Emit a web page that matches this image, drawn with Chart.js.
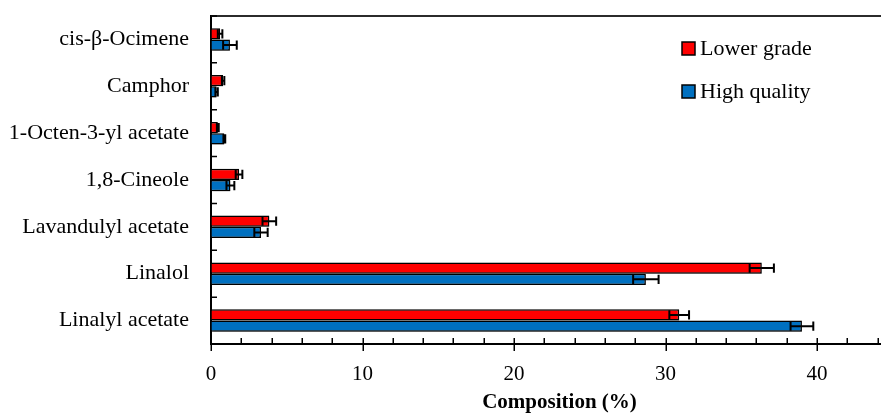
<!DOCTYPE html>
<html>
<head>
<meta charset="utf-8">
<script src="https://cdn.jsdelivr.net/npm/chart.js@4"></script>
<style>
html,body{margin:0;padding:0;background:#fff;overflow:hidden;width:881px;height:413px;}
#wrap{width:908px;height:413px;}
</style>
</head>
<body>
<div id="wrap"><canvas id="c" width="908" height="413"></canvas></div>
<script>
const categories = ['cis-β-Ocimene','Camphor','1-Octen-3-yl acetate','1,8-Cineole','Lavandulyl acetate','Linalol','Linalyl acetate'];
const seriesNames = ['Lower grade','High quality'];
const lowerGrade = [0.6, 0.8, 0.45, 1.85, 3.85, 36.35, 30.9];
const lowerGradeErr = [0.15, 0.08, 0.06, 0.22, 0.45, 0.8, 0.65];
const highQuality = [1.25, 0.37, 0.88, 1.28, 3.3, 28.7, 39.0];
const highQualityErr = [0.45, 0.08, 0.06, 0.26, 0.44, 0.84, 0.75];
const xMin = 0, xMax = 46, xMinorStep = 2, xMajorStep = 10;

const FONT = '"Liberation Serif", "Times New Roman", serif';
const errs = [lowerGradeErr, highQualityErr];

const decor = {
  id: 'decor',
  beforeDatasetsDraw(chart) {
    const ctx = chart.ctx;
    ctx.save();
    ctx.shadowColor = 'rgba(0,0,0,0.35)';
    ctx.shadowBlur = 2;
    ctx.shadowOffsetX = 1;
    ctx.shadowOffsetY = 1;
  },
  afterDatasetsDraw(chart) {
    const ctx = chart.ctx;
    ctx.restore();
    const xs = chart.scales.x;
    ctx.save();
    ctx.strokeStyle = '#000';
    ctx.lineWidth = 2;
    chart.data.datasets.forEach((ds, di) => {
      const meta = chart.getDatasetMeta(di);
      meta.data.forEach((bar, i) => {
        const v = ds.data[i], e = errs[di][i];
        const x1 = xs.getPixelForValue(v - e), x2 = xs.getPixelForValue(v + e);
        const h = bar.height / 2 - 1;
        ctx.beginPath();
        ctx.moveTo(x1, bar.y); ctx.lineTo(x2, bar.y);
        ctx.moveTo(x1, bar.y - h); ctx.lineTo(x1, bar.y + h);
        ctx.moveTo(x2, bar.y - h); ctx.lineTo(x2, bar.y + h);
        ctx.stroke();
      });
    });
    ctx.restore();
  },
  afterDraw(chart) {
    const ctx = chart.ctx;
    const a = chart.chartArea;
    const xs = chart.scales.x, ys = chart.scales.y;
    ctx.save();
    ctx.strokeStyle = '#2b2b2b';
    ctx.lineWidth = 2;
    ctx.beginPath();
    ctx.moveTo(a.left, a.top); ctx.lineTo(a.right, a.top);
    ctx.stroke();
    ctx.strokeStyle = '#000';
    ctx.lineWidth = 1.5;
    ctx.beginPath();
    for (let v = xMin; v <= xMax; v += xMinorStep) {
      const px = Math.round(xs.getPixelForValue(v)) + 0.25;
      const major = v % xMajorStep === 0;
      ctx.moveTo(px, a.bottom - 6);
      ctx.lineTo(px, major ? a.bottom + 7 : a.bottom);
    }
    for (let i = 0; i <= categories.length; i++) {
      const py = ys.getPixelForValue(i - 0.5);
      ctx.moveTo(a.left, py); ctx.lineTo(a.left + 6, py);
    }
    ctx.stroke();
    const lx = a.left + 471, ly = a.top + 26;
    chart.data.datasets.forEach((ds, di) => {
      const y = ly + di * 43;
      ctx.fillStyle = ds.backgroundColor;
      ctx.fillRect(lx, y, 13, 13);
      ctx.strokeStyle = '#000';
      ctx.lineWidth = 1.5;
      ctx.strokeRect(lx, y, 13, 13);
      ctx.fillStyle = '#000';
      ctx.font = '22px ' + FONT;
      ctx.textBaseline = 'alphabetic';
      ctx.textAlign = 'left';
      ctx.fillText(ds.label, lx + 18, y + 13);
    });
    ctx.restore();
  }
};

new Chart(document.getElementById('c'), {
  type: 'bar',
  data: {
    labels: categories,
    datasets: [
      { label: seriesNames[0], data: lowerGrade, backgroundColor: '#FF0000', borderColor: '#000', borderWidth: 1.5,
        categoryPercentage: 0.48, barPercentage: 1.0 },
      { label: seriesNames[1], data: highQuality, backgroundColor: '#0070C0', borderColor: '#000', borderWidth: 1.5,
        categoryPercentage: 0.48, barPercentage: 1.0 }
    ]
  },
  options: {
    indexAxis: 'y',
    responsive: false,
    animation: false,
    devicePixelRatio: 1,
    layout: { padding: { top: 16, left: 0, right: 0, bottom: 0 } },
    plugins: { legend: { display: false }, tooltip: { enabled: false } },
    scales: {
      x: {
        type: 'linear', min: xMin, max: xMax,
        grid: { display: true, drawOnChartArea: false, drawTicks: false },
        border: { display: true, color: '#000', width: 2 },
        ticks: {
          stepSize: xMinorStep, autoSkip: false, maxRotation: 0, padding: 18,
          color: '#000', font: { family: FONT, size: 21 },
          callback: (v) => (v % xMajorStep === 0 ? v : '')
        },
        title: { display: true, text: 'Composition (%)', color: '#000',
          font: { family: FONT, size: 21, weight: 'bold' }, padding: { top: 0, bottom: -2 } },
        afterFit: (s) => { s.height = 69; s.paddingLeft = 0; s.paddingRight = 0; }
      },
      y: {
        grid: { display: true, drawOnChartArea: false, drawTicks: false },
        border: { display: true, color: '#000', width: 2 },
        ticks: { color: '#000', font: { family: FONT, size: 22 }, padding: 22 },
        afterFit: (s) => { s.width = 211; s.paddingTop = 0; s.paddingBottom = 0; }
      }
    }
  },
  plugins: [decor]
});
</script>
</body>
</html>
